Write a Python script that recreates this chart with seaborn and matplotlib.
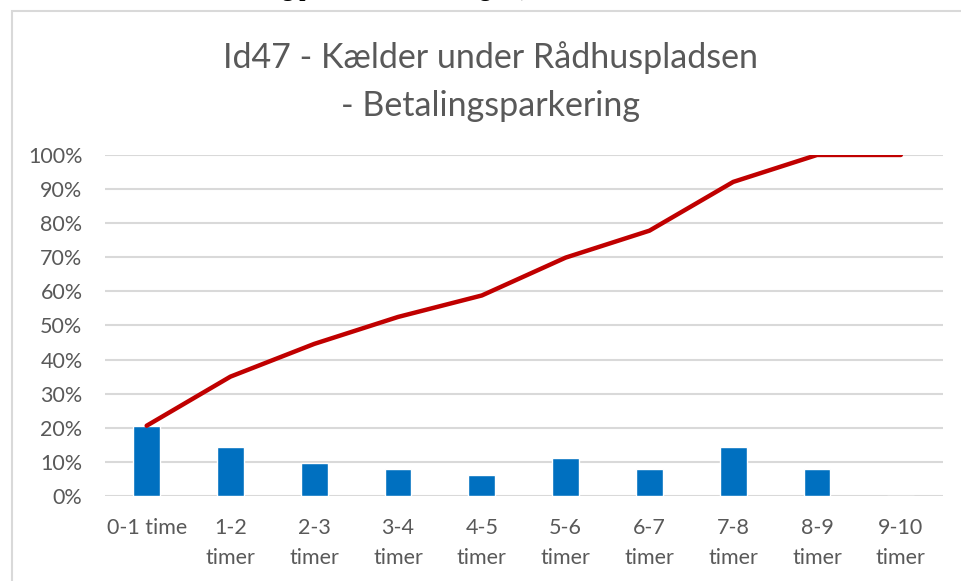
import numpy as np
import pandas as pd
import matplotlib.pyplot as plt
import seaborn as sns
from matplotlib.patches import Rectangle

# data
categories = ['0-1 time', '1-2\ntimer', '2-3\ntimer', '3-4\ntimer', '4-5\ntimer',
              '5-6\ntimer', '6-7\ntimer', '7-8\ntimer', '8-9\ntimer', '9-10\ntimer']
share = [20.6, 14.4, 9.6, 7.9, 6.3, 11.1, 7.9, 14.3, 7.9, 0.0]
cumulative = [20.6, 35.0, 44.6, 52.5, 58.8, 69.9, 77.8, 92.1, 100.0, 100.0]
yticks = [0, 10, 20, 30, 40, 50, 60, 70, 80, 90, 100]

title = 'Id47 - Kælder under Rådhuspladsen\n- Betalingsparkering'
cut_text = 'Bilerne, timer fordeling på hele kalenderdøgnet)'

sns.set_theme(style='white')
plt.rcParams['font.family'] = ['Lato', 'DejaVu Sans']
text_col = '#595959'
grid_col = '#D9D9D9'

df = pd.DataFrame({'cat': categories, 'share': share, 'cum': cumulative})

fig = plt.figure(figsize=(9.61, 5.81), dpi=100)
ax = fig.add_axes([0.109, 0.1463, 0.872, 0.587])

sns.barplot(data=df, x='cat', y='share', color='#0070C0', width=0.32,
            saturation=1, ax=ax, zorder=3)
sns.lineplot(x=np.arange(len(df)), y=df['cum'], color='#C00000', linewidth=3.2,
             ax=ax, zorder=4, solid_capstyle='round')

ax.set_xlim(-0.5, len(categories) - 0.5)
ax.set_ylim(0, 100)
ax.set_yticks(yticks)
ax.set_yticklabels([f'{v}%' for v in yticks])
ax.yaxis.grid(True, color=grid_col, linewidth=1.5, zorder=0)
ax.set_axisbelow(True)
for s in ax.spines.values():
    s.set_visible(False)
ax.set_xlabel('')
ax.set_ylabel('')
ax.tick_params(axis='y', length=0, pad=16, labelsize=15.5, labelcolor=text_col)
ax.tick_params(axis='x', length=0, pad=16, labelsize=15.5, labelcolor=text_col)
for lab in ax.get_xticklabels():
    lab.set_linespacing(1.6)

fig.text(0.51, 0.860, title, ha='center', va='center', fontsize=24.5,
         color=text_col, linespacing=1.6)

# chart frame
fig.patches.append(Rectangle((12 / 961, -0.05), 1.2, 1 - 11 / 581 + 0.05,
                             transform=fig.transFigure, fill=False,
                             edgecolor=grid_col, linewidth=1.5))

# cut-off heading from the page above, only descenders show
fig.text(0.072, 1 + 4 / 581, cut_text, ha='left', va='baseline', fontsize=16,
         fontweight='bold', family=['Liberation Serif'], color='black')

fig.savefig('out.png', dpi=100)
